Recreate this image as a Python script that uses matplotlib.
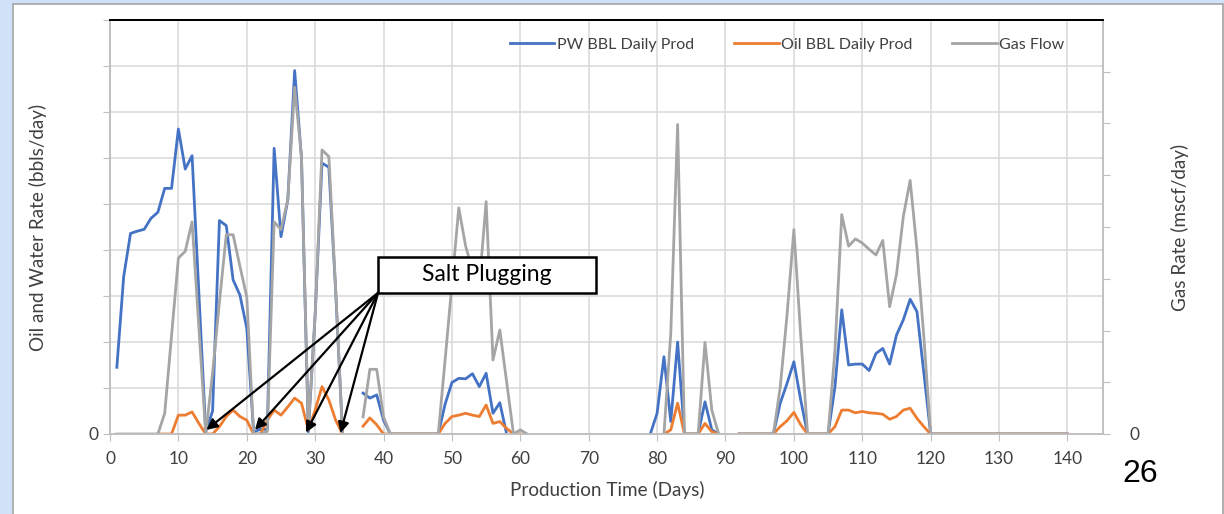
import matplotlib.pyplot as plt
import numpy as np
from matplotlib.patches import Rectangle

nan = np.nan

# production day 1..140
days = np.arange(1, 141)

# water (PW) bbl/day, left axis
pw_bbl = [14.5, 34.2, 43.6, 44.1, 44.5, 46.9, 48.2, 53.4, 53.4, 66.3,
          57.6, 60.5, 30.5, 0.5, 5.0, 46.4, 45.3, 33.5, 30.2, 23.0,
          0.5, 1.0, 1.0, 62.1, 42.9, 50.9, 79.0, 60.0, 0.5, 26.0,
          58.9, 58.0, 31.0, 0, nan, nan, 8.9, 7.8, 8.5, 3.0,
          0, 0, 0, 0, 0, 0, 0, 0, 6.5, 11.2,
          12.1, 12.0, 13.1, 10.3, 13.2, 4.5, 6.8, 0, nan, nan,
          nan, nan, nan, nan, nan, nan, nan, nan, nan, nan,
          nan, nan, nan, nan, nan, nan, nan, nan, 0, 4.5,
          16.8, 2.7, 20.0, 0, 0, 0, 7.0, 0.9, 0, nan,
          nan, 0, 0, 0, 0, 0, 0, 6.7, 11.0, 15.7,
          7.4, 0, 0, 0, 0, 10.2, 27.0, 15.0, 15.2, 15.2,
          13.8, 17.5, 18.6, 15.2, 21.5, 24.8, 29.3, 26.6, 13.2, 0,
          0, 0, 0, 0, 0, 0, 0, 0, 0, 0,
          0, 0, 0, 0, 0, 0, 0, 0, 0, 0]

# oil bbl/day, left axis
oil_bbl = [nan, nan, nan, nan, nan, nan, 0, 0, 0, 4.1,
           4.1, 4.8, 2.3, 0, 0, 1.6, 3.8, 5.2, 3.8, 3.0,
           0, 0, 3.0, 5.2, 4.1, 5.9, 7.8, 6.7, 0.9, 5.2,
           10.3, 7.4, 3.0, 0, nan, nan, 1.7, 3.5, 2.0, 0,
           0, 0, 0, 0, 0, 0, 0, 0, 2.3, 3.8,
           4.1, 4.5, 4.1, 3.8, 6.3, 2.3, 2.7, 1.2, 0, 0,
           nan, nan, nan, nan, nan, nan, nan, nan, nan, nan,
           nan, nan, nan, nan, nan, nan, nan, nan, nan, nan,
           0, 0.9, 6.7, 0, 0, 0, 2.3, 0.5, 0, nan,
           nan, 0, 0, 0, 0, 0, 0, 1.6, 2.9, 4.7,
           2.0, 0, 0, 0, 0, 1.6, 5.2, 5.2, 4.6, 4.9,
           4.6, 4.5, 4.3, 3.2, 3.8, 5.2, 5.6, 3.4, 1.6, 0,
           0, 0, 0, 0, 0, 0, 0, 0, 0, 0,
           0, 0, 0, 0, 0, 0, 0, 0, 0, 0]

# gas flow, right axis
gas_flow = [0, 0, 0, 0, 0, 0, 0, 4.0, 19.0, 34.0,
            35.3, 41.0, 20.5, 0, 11.8, 25.5, 38.5, 38.5, 32.4, 26.5,
            0, 0, 0.5, 41.0, 39.5, 45.3, 67.0, 53.6, 1.0, 23.0,
            54.9, 53.6, 28.0, 0, nan, nan, 3.3, 12.5, 12.5, 3.3,
            0, 0, 0, 0, 0, 0, 0, 0, 14.3, 29.0,
            43.7, 36.3, 31.7, 28.8, 44.9, 14.3, 20.1, 10.0, 0, 0.8,
            0, nan, nan, nan, nan, nan, nan, nan, nan, nan,
            nan, nan, nan, nan, nan, nan, nan, nan, nan, nan,
            0, 19.5, 59.8, 0, 0, 0, 17.7, 4.6, 0, nan,
            nan, 0, 0, 0, 0, 0, 0, 9.0, 23.0, 39.5,
            19.0, 0, 0, 0, 0, 16.0, 42.4, 36.3, 37.7, 36.9,
            35.7, 34.6, 37.4, 24.6, 30.8, 42.0, 49.0, 35.6, 18.8, 0,
            0, 0, 0, 0, 0, 0, 0, 0, 0, 0,
            0, 0, 0, 0, 0, 0, 0, 0, 0, 0]

# salt plugging events (day, level) pointed at by arrows
plug_days = [14.1, 21.2, 28.65, 33.7]
plug_levels = [0.9, 0.9, 0.3, 0.2]

plt.rcParams['font.family'] = ['Lato', 'DejaVu Sans']

fig = plt.figure(figsize=(12.24, 5.14), dpi=100)
fig.patch.set_facecolor('#cfe2f7')
fig.patches.append(Rectangle((13 / 1224, -0.01), 1210 / 1224, 1 - 4 / 514 + 0.01,
                             transform=fig.transFigure, facecolor='white',
                             edgecolor='#a6a6a6', lw=1.2, zorder=-10))

ax = fig.add_axes([110 / 1224, 80 / 514, 993 / 1224, 414 / 514])
ax.set_facecolor('none')
ax2 = ax.twinx()

l1, = ax.plot(days, pw_bbl, color='#4472c4', lw=2.0, label='PW BBL Daily Prod')
l2, = ax.plot(days, oil_bbl, color='#ed7d31', lw=2.0, label='Oil BBL Daily Prod')
l3, = ax2.plot(days, gas_flow, color='#a5a5a5', lw=2.0, label='Gas Flow')

ax.set_xlim(0, 145.2)
ax.set_ylim(0, 90)
ax2.set_ylim(0, 80)
ax.set_xticks(np.arange(0, 141, 10))
ax.set_yticks(np.arange(0, 91, 10))
ax.set_yticklabels(['0'] + [''] * 9)
ax2.set_yticks(np.arange(0, 71, 10))
ax2.set_yticklabels(['0'] + [''] * 7)

ax.grid(True, color='#d9d9d9', lw=1.1)
ax.set_axisbelow(True)
for a in (ax, ax2):
    for s in ('left', 'bottom', 'right'):
        a.spines[s].set_color('#bfbfbf')
        a.spines[s].set_linewidth(1.1)
    a.spines['top'].set_color('black')
    a.spines['top'].set_linewidth(1.4)
ax.tick_params(axis='both', colors='#bfbfbf', labelcolor='#404040', labelsize=12.5, length=5)
ax.tick_params(axis='x', pad=7)
ax2.tick_params(axis='y', colors='#bfbfbf', labelcolor='#404040', labelsize=12.5, length=5, pad=14)

# Salt plugging callout
box = Rectangle((39.2, 30.7), 31.9, 7.8, transform=ax.transData,
                facecolor='white', edgecolor='black', lw=1.8, zorder=5)
ax2.add_patch(box)
ax2.text(55.15, 34.6, 'Salt Plugging', transform=ax.transData, ha='center', va='center',
         fontsize=16.5, color='black', zorder=6)
for d, v in zip(plug_days, plug_levels):
    ax2.annotate('', xy=(d, v), xytext=(39.2, 30.7), xycoords=ax.transData,
                 textcoords=ax.transData,
                 arrowprops=dict(arrowstyle='-|>', color='black', lw=1.6,
                                 mutation_scale=16, shrinkA=0, shrinkB=0), zorder=6)

ax2.legend(handles=[l1, l2, l3], loc='center', bbox_to_anchor=(0.682, 0.94), ncol=3,
           frameon=False, fontsize=11.5, handlelength=2.8, handletextpad=0.15,
           columnspacing=2.5, labelcolor='#404040')

fig.text(37.5 / 1224, 1 - 227 / 514, 'Oil and Water Rate (bbls/day)', rotation=90,
         ha='center', va='center', fontsize=13.6, color='#404040')
fig.text(1180 / 1224, 1 - 227 / 514, 'Gas Rate (mscf/day)', rotation=90,
         ha='center', va='center', fontsize=13.6, color='#404040')
fig.text(607 / 1224, 1 - 490 / 514, 'Production Time (Days)', ha='center', va='center',
         fontsize=13.6, color='#404040')
fig.text(1140 / 1224, 1 - 474 / 514, '26', ha='center', va='center', fontsize=23,
         family='Liberation Sans', color='black')

fig.savefig('out.png', dpi=100, facecolor=fig.get_facecolor())
